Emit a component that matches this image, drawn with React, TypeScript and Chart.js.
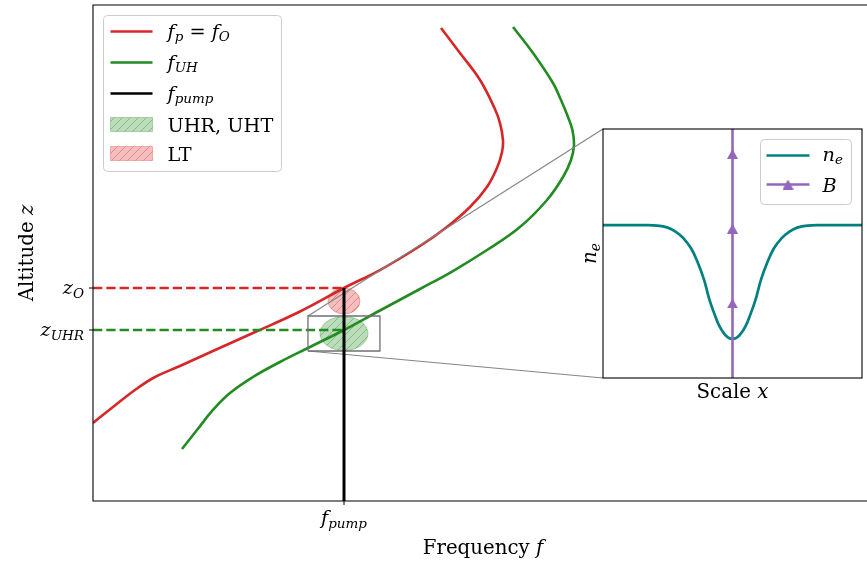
import React, { useEffect, useRef } from 'react';
import { Chart, registerables } from 'chart.js';

Chart.register(...registerables);

// ---- Main panel: frequency f (arbitrary units) against altitude z ----
const F_PUMP = 3.218;
const Z_O = 4.294;
const Z_UHR = 3.448;

// f_p = f_O profile
const RED_F = [0, 0.256, 0.538, 0.795, 1.115, 1.538, 2.051, 2.654, 3.218, 3.679, 4.192, 4.538, 4.833, 5.051, 5.179, 5.244, 5.256, 5.218, 5.154, 4.962, 4.705, 4.462];
const RED_Z = [1.573, 1.895, 2.238, 2.5, 2.722, 3.024, 3.387, 3.821, 4.294, 4.657, 5.141, 5.524, 5.927, 6.331, 6.714, 7.036, 7.278, 7.617, 7.899, 8.488, 9.032, 9.536];

// f_UH profile
const GREEN_F = [1.141, 1.333, 1.538, 1.756, 2.051, 2.397, 2.782, 3.218, 3.679, 4.192, 4.615, 5.051, 5.474, 5.821, 6.026, 6.128, 6.167, 6.147, 6.09, 6.0, 5.897, 5.641, 5.385];
const GREEN_Z = [1.048, 1.431, 1.835, 2.177, 2.5, 2.802, 3.105, 3.448, 3.841, 4.274, 4.637, 5.06, 5.524, 6.069, 6.532, 6.875, 7.177, 7.476, 7.742, 8.085, 8.427, 9.032, 9.556];

// interaction regions: [f centre, z centre, f half-width, z half-height]
const UHR_ZONE = [F_PUMP, 3.377, 0.308, 0.343];
const LT_ZONE = [F_PUMP, 4.032, 0.205, 0.262];

// zoomed region [f0, f1, z0, z1] and where the inset sits [f0, f1, z0, z1]
const ZOOM_BOX = [2.756, 3.679, 3.024, 3.73];
const INSET_BOX = [6.538, 9.859, 2.48, 7.5];

// ---- Inset: density across the structure ----
const SCALE_X = [-5, -4, -3.4, -2.9, -2.5, -2.2, -1.9, -1.6, -1.35, -1.1, -0.9, -0.7, -0.5, -0.3, -0.15, 0, 0.15, 0.3, 0.5, 0.7, 0.9, 1.1, 1.35, 1.6, 1.9, 2.2, 2.5, 2.9, 3.4, 4, 5];
const NE = [0.614, 0.614, 0.614, 0.612, 0.604, 0.588, 0.562, 0.521, 0.466, 0.395, 0.318, 0.258, 0.207, 0.175, 0.161, 0.157, 0.161, 0.175, 0.207, 0.258, 0.318, 0.395, 0.466, 0.521, 0.562, 0.588, 0.604, 0.612, 0.614, 0.614, 0.614];
const B_Y = [0, 0.3, 0.6, 0.9, 1];
const B_MARKER = [0, 1, 1, 1, 0];

const RED = '#d62728';
const GREEN = '#228b22';
const TEAL = '#008080';
const PURPLE = '#9467bd';
const RED_RGB = '214,39,40';
const GREEN_RGB = '34,139,34';
const FS = 19.3;
const FS_TITLE = 19.8;
const SERIF = '"DejaVu Serif", serif';

type Run = { t: string; it?: boolean; sub?: boolean };

const pts = (xs: number[], ys: number[]) => xs.map((x, i) => ({ x, y: ys[i] }));

function runFont(r: Run, size: number) {
  return `${r.it ? 'italic ' : ''}${(r.sub ? size * 0.7 : size).toFixed(1)}px ${SERIF}`;
}

function drawRich(ctx: CanvasRenderingContext2D, runs: Run[], x: number, y: number, align: 'left' | 'center' | 'right', size = FS) {
  const widths = runs.map((r) => {
    ctx.font = runFont(r, size);
    return ctx.measureText(r.t).width;
  });
  const total = widths.reduce((a, b) => a + b, 0);
  let cx = align === 'left' ? x : align === 'center' ? x - total / 2 : x - total;
  ctx.textAlign = 'left';
  ctx.textBaseline = 'alphabetic';
  ctx.fillStyle = '#000';
  runs.forEach((r, i) => {
    ctx.font = runFont(r, size);
    ctx.fillText(r.t, cx, y + (r.sub ? size * 0.19 : 0));
    cx += widths[i];
  });
}

function hatchPattern(ctx: CanvasRenderingContext2D, rgb: string) {
  const c = document.createElement('canvas');
  c.width = 8;
  c.height = 8;
  const g = c.getContext('2d')!;
  g.strokeStyle = `rgba(${rgb},0.38)`;
  g.lineWidth = 1;
  g.beginPath();
  g.moveTo(-2, 10);
  g.lineTo(10, -2);
  g.moveTo(-2, 2);
  g.lineTo(2, -2);
  g.moveTo(6, 10);
  g.lineTo(10, 6);
  g.stroke();
  return ctx.createPattern(c, 'repeat')!;
}

function fillHatched(ctx: CanvasRenderingContext2D, rgb: string, path: () => void) {
  ctx.save();
  path();
  ctx.fillStyle = `rgba(${rgb},0.3)`;
  ctx.fill();
  ctx.fillStyle = hatchPattern(ctx, rgb);
  ctx.fill();
  ctx.strokeStyle = `rgba(${rgb},0.3)`;
  ctx.lineWidth = 1;
  ctx.stroke();
  ctx.restore();
}

function triangleMarker() {
  const c = document.createElement('canvas');
  c.width = 11;
  c.height = 10;
  const g = c.getContext('2d')!;
  g.fillStyle = PURPLE;
  g.beginPath();
  g.moveTo(5.5, 0);
  g.lineTo(11, 10);
  g.lineTo(0, 10);
  g.closePath();
  g.fill();
  return c;
}

const mainDecor = {
  id: 'mainDecor',
  beforeDatasetsDraw(chart: any) {
    const { ctx, scales } = chart;
    const xs = scales.x;
    const ys = scales.y;
    const zones: [number[], string][] = [[UHR_ZONE, GREEN_RGB], [LT_ZONE, RED_RGB]];
    zones.forEach(([z, rgb]) => {
      const cx = xs.getPixelForValue(z[0]);
      const cy = ys.getPixelForValue(z[1]);
      const rx = xs.getPixelForValue(z[0] + z[2]) - cx;
      const ry = cy - ys.getPixelForValue(z[1] + z[3]);
      fillHatched(ctx, rgb, () => {
        ctx.beginPath();
        ctx.ellipse(cx, cy, rx, ry, 0, 0, Math.PI * 2);
      });
    });
  },
  afterDatasetsDraw(chart: any) {
    const { ctx, chartArea: ca, scales } = chart;
    const xs = scales.x;
    const ys = scales.y;
    ctx.save();
    // spines (left, top, bottom)
    ctx.strokeStyle = '#000';
    ctx.lineWidth = 1.1;
    ctx.beginPath();
    ctx.moveTo(ca.right, ca.top);
    ctx.lineTo(ca.left, ca.top);
    ctx.lineTo(ca.left, ca.bottom);
    ctx.lineTo(ca.right, ca.bottom);
    ctx.stroke();

    // ticks
    const fx = xs.getPixelForValue(F_PUMP);
    const zo = ys.getPixelForValue(Z_O);
    const zu = ys.getPixelForValue(Z_UHR);
    ctx.lineWidth = 1;
    ctx.beginPath();
    ctx.moveTo(fx, ca.bottom);
    ctx.lineTo(fx, ca.bottom + 4);
    ctx.moveTo(ca.left, zo);
    ctx.lineTo(ca.left - 4, zo);
    ctx.moveTo(ca.left, zu);
    ctx.lineTo(ca.left - 4, zu);
    ctx.stroke();

    // tick labels
    drawRich(ctx, [{ t: 'f', it: true }, { t: 'pump', it: true, sub: true }], fx, ca.bottom + 23, 'center');
    drawRich(ctx, [{ t: 'z', it: true }, { t: 'O', it: true, sub: true }], ca.left - 9, zo + 6, 'right');
    drawRich(ctx, [{ t: 'z', it: true }, { t: 'UHR', it: true, sub: true }], ca.left - 9, zu + 6, 'right');

    // axis titles
    drawRich(ctx, [{ t: 'Frequency ' }, { t: 'f', it: true }], (ca.left + ca.right) / 2, ca.bottom + 53, 'center', FS_TITLE);
    ctx.save();
    ctx.translate(ca.left - 60, (ca.top + ca.bottom) / 2);
    ctx.rotate(-Math.PI / 2);
    drawRich(ctx, [{ t: 'Altitude ' }, { t: 'z', it: true }], 0, 0, 'center', FS_TITLE);
    ctx.restore();

    // legend
    const lx = ca.left + 10.5;
    const ly = ca.top + 10.5;
    ctx.beginPath();
    ctx.roundRect(lx, ly, 178, 156, 4);
    ctx.fillStyle = 'rgba(255,255,255,0.8)';
    ctx.fill();
    ctx.strokeStyle = '#cccccc';
    ctx.lineWidth = 1;
    ctx.stroke();

    const hx0 = lx + 7;
    const hx1 = lx + 49;
    const tx = lx + 64;
    const rows = [ly + 16, ly + 47, ly + 78, ly + 109, ly + 138];
    const lineRow = (y: number, color: string) => {
      ctx.strokeStyle = color;
      ctx.lineWidth = 2.6;
      ctx.beginPath();
      ctx.moveTo(hx0, y);
      ctx.lineTo(hx1, y);
      ctx.stroke();
    };
    lineRow(rows[0], RED);
    drawRich(ctx, [{ t: 'f', it: true }, { t: 'p', it: true, sub: true }, { t: ' = ' }, { t: 'f', it: true }, { t: 'O', it: true, sub: true }], tx, rows[0] + 6, 'left');
    lineRow(rows[1], GREEN);
    drawRich(ctx, [{ t: 'f', it: true }, { t: 'UH', it: true, sub: true }], tx, rows[1] + 6, 'left');
    lineRow(rows[2], '#000');
    drawRich(ctx, [{ t: 'f', it: true }, { t: 'pump', it: true, sub: true }], tx, rows[2] + 6, 'left');
    const patchRow = (y: number, rgb: string) =>
      fillHatched(ctx, rgb, () => {
        ctx.beginPath();
        ctx.rect(hx0, y - 7, hx1 - hx0, 14);
      });
    patchRow(rows[3], GREEN_RGB);
    drawRich(ctx, [{ t: 'UHR, UHT' }], tx, rows[3] + 7, 'left');
    patchRow(rows[4], RED_RGB);
    drawRich(ctx, [{ t: 'LT' }], tx, rows[4] + 7, 'left');
    ctx.restore();
  },
};

const insetDecor = {
  id: 'insetDecor',
  beforeDraw(chart: any) {
    // opaque face only inside the inset axes; the margins stay transparent
    const { ctx, chartArea: ca } = chart;
    ctx.save();
    ctx.fillStyle = '#fff';
    ctx.fillRect(ca.left, ca.top, ca.right - ca.left, ca.bottom - ca.top);
    ctx.restore();
  },
  afterDraw(chart: any) {
    const { ctx, chartArea: ca } = chart;
    const marker = chart.$marker as HTMLCanvasElement;
    ctx.save();
    ctx.strokeStyle = '#000';
    ctx.lineWidth = 1.1;
    ctx.strokeRect(ca.left, ca.top, ca.right - ca.left, ca.bottom - ca.top);

    drawRich(ctx, [{ t: 'Scale ' }, { t: 'x', it: true }], (ca.left + ca.right) / 2, ca.bottom + 20, 'center', FS_TITLE);
    ctx.save();
    ctx.translate(ca.left - 7, (ca.top + ca.bottom) / 2);
    ctx.rotate(-Math.PI / 2);
    drawRich(ctx, [{ t: 'n', it: true }, { t: 'e', it: true, sub: true }], 0, 0, 'center', FS_TITLE);
    ctx.restore();

    // legend
    const bx = ca.right - 101.5;
    const by = ca.top + 10.5;
    ctx.beginPath();
    ctx.roundRect(bx, by, 91, 65, 4);
    ctx.fillStyle = 'rgba(255,255,255,0.8)';
    ctx.fill();
    ctx.strokeStyle = '#cccccc';
    ctx.lineWidth = 1;
    ctx.stroke();
    const r1 = by + 16;
    const r2 = by + 45;
    ctx.lineWidth = 2.6;
    ctx.strokeStyle = TEAL;
    ctx.beginPath();
    ctx.moveTo(bx + 6, r1);
    ctx.lineTo(bx + 49, r1);
    ctx.stroke();
    ctx.strokeStyle = PURPLE;
    ctx.beginPath();
    ctx.moveTo(bx + 6, r2);
    ctx.lineTo(bx + 49, r2);
    ctx.stroke();
    if (marker) ctx.drawImage(marker, bx + 27.5 - marker.width / 2, r2 - marker.height / 2);
    drawRich(ctx, [{ t: 'n', it: true }, { t: 'e', it: true, sub: true }], bx + 62, r1 + 5, 'left');
    drawRich(ctx, [{ t: 'B', it: true }], bx + 62, r2 + 7, 'left');
    ctx.restore();
  },
};

export default function App() {
  const mainRef = useRef<HTMLCanvasElement>(null);
  const insetRef = useRef<HTMLCanvasElement>(null);

  useEffect(() => {
    const mainCanvas = mainRef.current!;
    const insetCanvas = insetRef.current!;

    const [zf0, zf1, zz0, zz1] = ZOOM_BOX;
    const [if0, if1, iz0, iz1] = INSET_BOX;

    const main = new Chart(mainCanvas, {
      type: 'line',
      data: {
        datasets: [
          { data: [{ x: F_PUMP, y: 0 }, { x: F_PUMP, y: Z_O }], borderColor: '#000', borderWidth: 3, order: 0, tension: 0 },
          { data: [{ x: zf0, y: zz0 }, { x: zf1, y: zz0 }, { x: zf1, y: zz1 }, { x: zf0, y: zz1 }, { x: zf0, y: zz0 }], borderColor: '#707070', borderWidth: 1.3, order: 1, tension: 0 },
          { data: [{ x: zf0, y: zz1 }, { x: if0, y: iz1 }], borderColor: '#858585', borderWidth: 1.2, order: 1, tension: 0 },
          { data: [{ x: zf0, y: zz0 }, { x: if0, y: iz0 }], borderColor: '#858585', borderWidth: 1.2, order: 1, tension: 0 },
          { data: [{ x: 0, y: Z_O }, { x: F_PUMP, y: Z_O }], borderColor: RED, borderWidth: 2.6, borderDash: [9.3, 4], order: 2, tension: 0 },
          { data: [{ x: 0, y: Z_UHR }, { x: F_PUMP, y: Z_UHR }], borderColor: GREEN, borderWidth: 2.6, borderDash: [9.3, 4], order: 2, tension: 0 },
          { data: pts(GREEN_F, GREEN_Z), borderColor: GREEN, borderWidth: 2.6, order: 3, tension: 0.4 },
          { data: pts(RED_F, RED_Z), borderColor: RED, borderWidth: 2.6, order: 4, tension: 0.4 },
        ],
      },
      options: {
        animation: false,
        responsive: false,
        events: [],
        layout: { padding: { left: 93, top: 5, right: 7, bottom: 62 } },
        elements: { point: { radius: 0 } },
        scales: {
          x: { type: 'linear', min: 0, max: 10, display: false },
          y: { type: 'linear', min: 0, max: 10, display: false },
        },
        plugins: { legend: { display: false }, tooltip: { enabled: false } },
      },
      plugins: [mainDecor],
    } as any);

    // place the inset over the reserved region of the main axes
    const xs = main.scales.x;
    const ys = main.scales.y;
    const left = Math.round(xs.getPixelForValue(if0));
    const right = Math.round(xs.getPixelForValue(if1));
    const top = Math.round(ys.getPixelForValue(iz1));
    const bottom = Math.round(ys.getPixelForValue(iz0));
    const M = { l: 40, t: 10, r: 5, b: 32 };
    insetCanvas.width = right - left + M.l + M.r;
    insetCanvas.height = bottom - top + M.t + M.b;
    insetCanvas.style.left = `${left - M.l}px`;
    insetCanvas.style.top = `${top - M.t}px`;

    const marker = triangleMarker();
    const inset = new Chart(insetCanvas, {
      type: 'line',
      data: {
        datasets: [
          {
            data: B_Y.map((y) => ({ x: 0, y })),
            borderColor: PURPLE,
            borderWidth: 2.6,
            pointStyle: marker,
            pointRadius: B_MARKER.map((m) => m * 5),
            order: 0,
            tension: 0,
          },
          { data: pts(SCALE_X, NE), borderColor: TEAL, borderWidth: 2.7, pointRadius: 0, order: 1, tension: 0.4 },
        ],
      },
      options: {
        animation: false,
        responsive: false,
        events: [],
        layout: { padding: { left: M.l, top: M.t, right: M.r, bottom: M.b } },
        scales: {
          x: { type: 'linear', min: -5, max: 5, display: false },
          y: { type: 'linear', min: 0, max: 1, display: false },
        },
        plugins: { legend: { display: false }, tooltip: { enabled: false } },
      },
      plugins: [
        {
          id: 'insetMarker',
          beforeInit(chart: any) {
            chart.$marker = marker;
          },
        },
        insetDecor,
      ],
    } as any);

    return () => {
      inset.destroy();
      main.destroy();
    };
  }, []);

  return (
    <div style={{ position: 'absolute', left: 0, top: 0, width: 867, height: 563, overflow: 'hidden', background: '#fff' }}>
      <canvas ref={mainRef} width={880} height={563} style={{ position: 'absolute', left: 0, top: 0 }} />
      <canvas ref={insetRef} style={{ position: 'absolute' }} />
    </div>
  );
}
